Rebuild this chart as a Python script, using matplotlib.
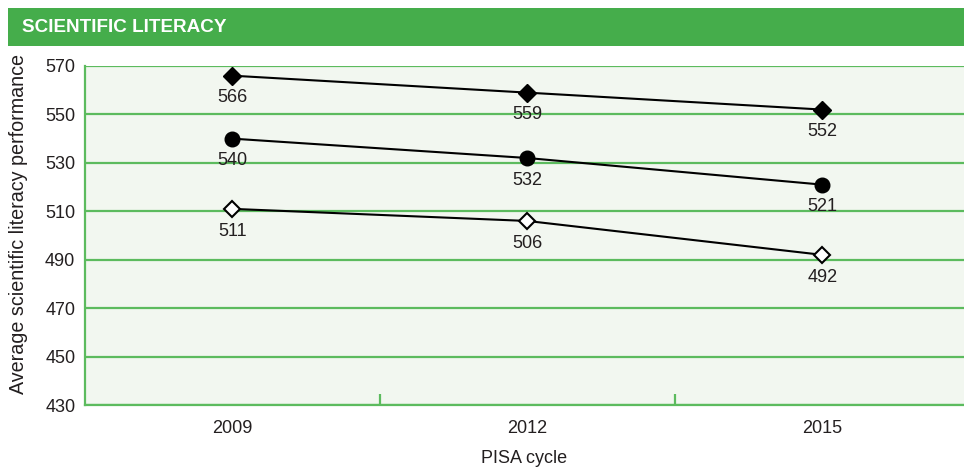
import matplotlib.pyplot as plt
from matplotlib.patches import Rectangle

# PISA scientific literacy, three series
cycles = ["2009", "2012", "2015"]
top_scores = [566, 559, 552]      # filled diamonds
mid_scores = [540, 532, 521]      # filled circles
low_scores = [511, 506, 492]      # open diamonds

y_ticks = [430, 450, 470, 490, 510, 530, 550, 570]

green = "#45ad4b"
grid_green = "#5cbb5e"
bg = "#f2f7f0"
txt = "#231f20"

plt.rcParams["font.family"] = ["Liberation Sans", "DejaVu Sans"]

fig = plt.figure(figsize=(9.64, 4.70), dpi=100)

# green header band
fig.patches.append(Rectangle((8 / 964, 1 - 46 / 470), 1 - 8 / 964, 38 / 470,
                             transform=fig.transFigure, facecolor=green,
                             edgecolor="none"))
fig.text(22 / 964, 1 - 27 / 470, "SCIENTIFIC LITERACY", color="white",
         fontsize=13.6, fontweight="bold", va="center", ha="left")

ax = fig.add_axes([85 / 964, 1 - 405 / 470, 1 - 85 / 964, 339 / 470])
ax.set_facecolor(bg)

x = list(range(len(cycles)))

ax.plot(x, top_scores, color="black", lw=1.5, marker="D", ms=9,
        mfc="black", mec="black", zorder=3)
ax.plot(x, mid_scores, color="black", lw=1.5, marker="o", ms=10.5,
        mfc="black", mec="black", zorder=3)
ax.plot(x, low_scores, color="black", lw=1.5, marker="D", ms=8,
        mfc="white", mec="black", mew=1.5, zorder=3)

for series in (top_scores, mid_scores, low_scores):
    for xi, v in zip(x, series):
        ax.annotate(str(v), (xi, v), xytext=(0, -16), textcoords="offset points",
                    ha="center", va="center", fontsize=13, color=txt, zorder=4)

ax.set_xlim(-0.5, 2.48)
ax.set_ylim(430, 570)
ax.set_yticks(y_ticks)
ax.set_xticks(x)
ax.set_xticklabels(cycles)
ax.set_xticks([0.5, 1.5], minor=True)

ax.yaxis.grid(True, color=grid_green, lw=1.6)
ax.set_axisbelow(True)

for side in ("top", "right"):
    ax.spines[side].set_visible(False)
for side in ("left", "bottom"):
    ax.spines[side].set_color(grid_green)
    ax.spines[side].set_linewidth(1.6)

ax.tick_params(axis="y", length=0, pad=7, labelsize=13, labelcolor=txt)
ax.tick_params(axis="x", which="major", length=0, pad=11, labelsize=13,
               labelcolor=txt)
ax.tick_params(axis="x", which="minor", direction="in", length=8, width=1.6,
               color=grid_green)

ax.set_ylabel("Average scientific literacy performance", fontsize=14.2,
              color=txt, va="center")
ax.yaxis.set_label_coords(-0.0762, 0.534)
ax.set_xlabel("PISA cycle", fontsize=13, color=txt, labelpad=9)

fig.savefig("out.png", dpi=100)
